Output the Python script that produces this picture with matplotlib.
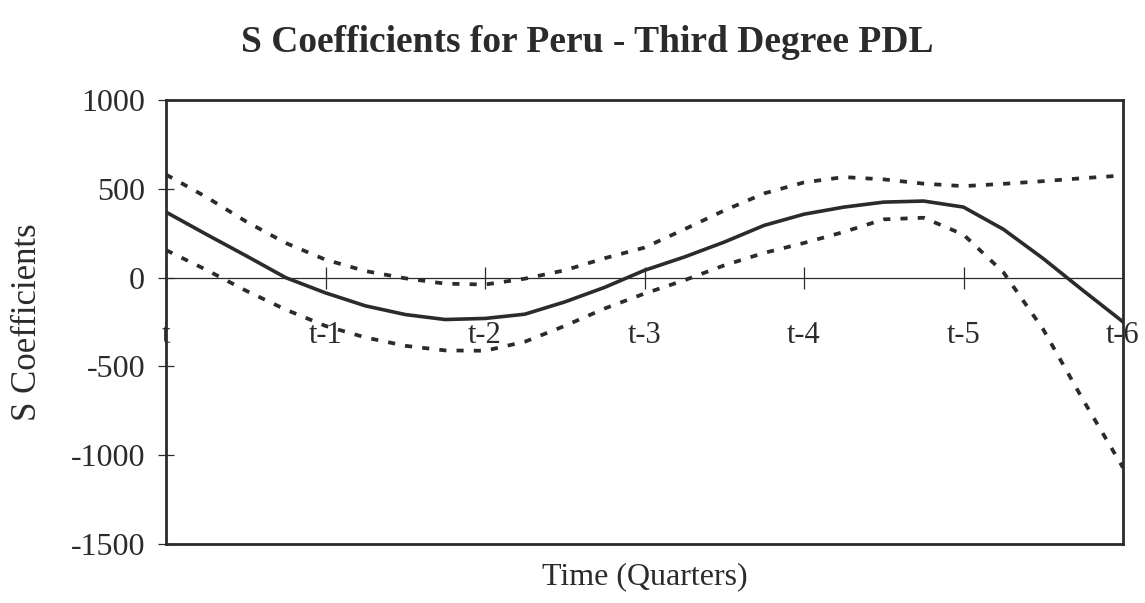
import numpy as np
import matplotlib
matplotlib.use("Agg")
import matplotlib.pyplot as plt

plt.rcParams["font.family"] = ["Liberation Serif", "DejaVu Serif"]

# quarter positions (0 = t, 6 = t-6)
lag = [0, 0.25, 0.5, 0.75, 1, 1.25, 1.5, 1.75, 2, 2.25, 2.5, 2.75, 3,
       3.25, 3.5, 3.75, 4, 4.25, 4.5, 4.75, 5, 5.25, 5.5, 5.75, 6]

coef = [369, 245, 124, 0, -86, -159, -208, -236, -230, -206, -137, -55, 41,
        116, 200, 294, 357, 397, 425, 431, 397, 272, 107, -73, -249]

upper = [580, 455, 317, 195, 101, 37, -4, -34, -39, -6, 41, 109, 169,
         272, 378, 474, 536, 566, 553, 529, 515, 528, 543, 560, 575]

lower = [155, 45, -73, -180, -272, -337, -384, -410, -412, -361, -272, -174, -90,
         -15, 69, 139, 195, 257, 328, 337, 242, 30, -292, -689, -1070]

tick_pos = [0, 1, 2, 3, 4, 5, 6]
tick_labels = ["t", "t-1", "t-2", "t-3", "t-4", "t-5", "t-6"]
y_ticks = [1000, 500, 0, -500, -1000, -1500]

ink = "#2b2b2b"

fig = plt.figure(figsize=(11.45, 6.03), dpi=100)
ax = fig.add_axes([166 / 1145, 1 - 544 / 603, (1123 - 166) / 1145, (544 - 100) / 603])

ax.plot(lag, coef, color=ink, lw=2.6, solid_joinstyle="round")
ax.plot(lag, upper, color=ink, lw=2.7, linestyle=(0, (1.9, 2.7)))
ax.plot(lag, lower, color=ink, lw=2.7, linestyle=(0, (1.9, 2.7)))

ax.set_xlim(0, 6)
ax.set_ylim(-1500, 1000)

# x axis sits on the zero line, frame drawn around
ax.spines["bottom"].set_position(("data", 0))
ax.spines["bottom"].set_linewidth(0.9)
ax.spines["bottom"].set_color(ink)
for side in ["left", "top", "right"]:
    ax.spines[side].set_linewidth(2.0)
    ax.spines[side].set_color(ink)
ax.axhline(-1500, color=ink, lw=2.0, clip_on=False)

ax.set_xticks(tick_pos)
ax.set_xticklabels(tick_labels)
ax.set_yticks(y_ticks)
ax.set_yticklabels([str(v) for v in y_ticks])

ax.tick_params(axis="x", direction="inout", length=16, width=0.9, color=ink,
               pad=23, labelsize=22, labelcolor=ink)
ax.tick_params(axis="y", direction="inout", length=12, width=0.9, color=ink,
               pad=9, labelsize=23, labelcolor=ink)

fig.text(28 / 1145, 1 - 322 / 603, "S Coefficients", rotation=90,
         ha="center", va="center", fontsize=25, color=ink)

ax.set_xlabel("Time (Quarters)", fontsize=23, color=ink, va="top")
ax.xaxis.set_label_coords(0.5, -0.04)

fig.text(0.513, 1 - 42 / 603, "S Coefficients for Peru - Third Degree PDL",
         ha="center", va="center", fontsize=27, fontweight="bold", color=ink)

fig.savefig("out.png", dpi=100, facecolor="white")
plt.close(fig)
